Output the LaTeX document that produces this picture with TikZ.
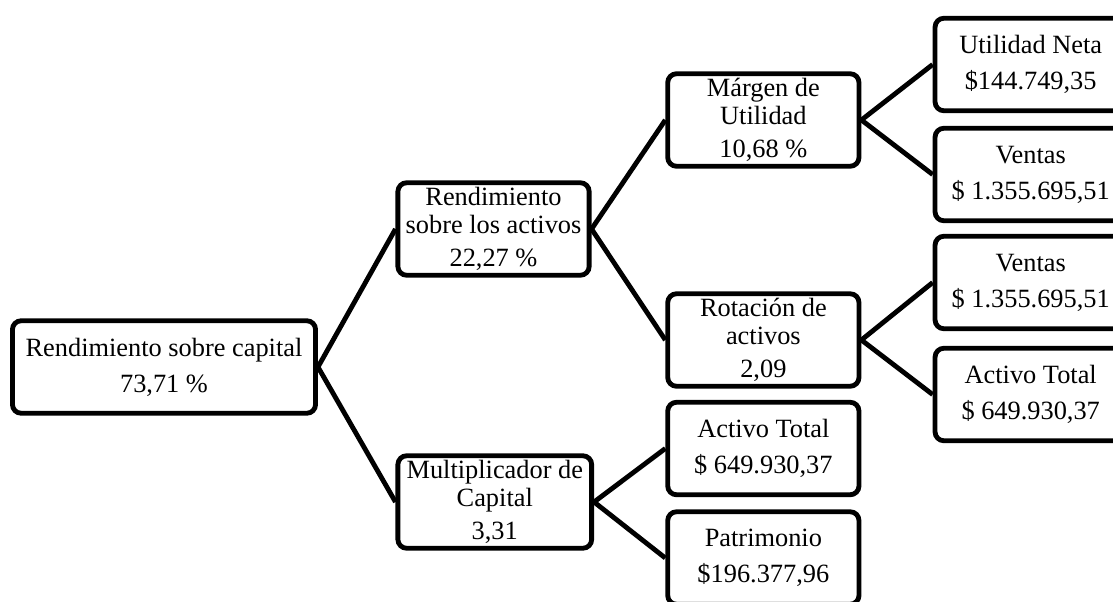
\documentclass[tikz,border=0pt]{standalone}
\usepackage{fontspec}
\setmainfont{Liberation Serif}
\usetikzlibrary{positioning}

\begin{document}
\begin{tikzpicture}[
  node distance=3mm and 11.8mm,
  box/.style={draw, line width=2.2pt, rounded corners=4pt, fill=white, align=center,
              minimum width=30.6mm, minimum height=14.8mm, inner sep=1pt,
              font=\fontsize{12}{13}\selectfont},
  link/.style={line width=2.2pt}
]
\useasboundingbox (0,0) rectangle (17.808,-9.616);
\clip (0,0) rectangle (17.808,-9.616);
\node[box, minimum width=48.5mm] (capital) at (2.624,-5.872)
  {Rendimiento sobre capital\\[3.4pt]73,71 \%};
\node[box, right=12.4mm of capital, yshift=22.08mm] (activos)
  {Rendimiento\\sobre los activos\\[2pt]22,27 \%};
\node[box, right=12.4mm of capital, yshift=-21.6mm, minimum width=31mm] (multiplicador)
  {Multiplicador de\\Capital\\[2pt]3,31};
\node[box, right=of activos, yshift=17.44mm] (margen)
  {Márgen de\\Utilidad\\[2pt]10,68 \%};
\node[box, right=of activos, yshift=-17.76mm] (rotacion)
  {Rotación de\\activos\\[2pt]2,09};
\node[box, right=11.4mm of multiplicador, yshift=8.56mm] (activomult)
  {Activo Total\\[3.4pt]\$ 649.930,37};
\node[box, right=11.4mm of multiplicador, yshift=-8.96mm] (patrimonio)
  {Patrimonio\\[3.4pt]\$196.377,96};
\node[box, right=11.4mm of margen, yshift=8.88mm] (utilidad)
  {Utilidad Neta\\[3.4pt]\$144.749,35};
\node[box, right=11.4mm of margen, yshift=-8.72mm] (ventasmargen)
  {Ventas\\[3.4pt]\$ 1.355.695,51};
\node[box, right=11.4mm of rotacion, yshift=9.2mm] (ventasrotacion)
  {Ventas\\[3.4pt]\$ 1.355.695,51};
\node[box, right=11.4mm of rotacion, yshift=-8.72mm] (activorotacion)
  {Activo Total\\[3.4pt]\$ 649.930,37};

\draw[link] (capital.east) -- (activos.west);
\draw[link] (capital.east) -- (multiplicador.west);
\draw[link] (activos.east) -- (margen.west);
\draw[link] (activos.east) -- (rotacion.west);
\draw[link] (multiplicador.east) -- (activomult.west);
\draw[link] (multiplicador.east) -- (patrimonio.west);
\draw[link] (margen.east) -- (utilidad.west);
\draw[link] (margen.east) -- (ventasmargen.west);
\draw[link] (rotacion.east) -- (ventasrotacion.west);
\draw[link] (rotacion.east) -- (activorotacion.west);
\end{tikzpicture}
\end{document}
